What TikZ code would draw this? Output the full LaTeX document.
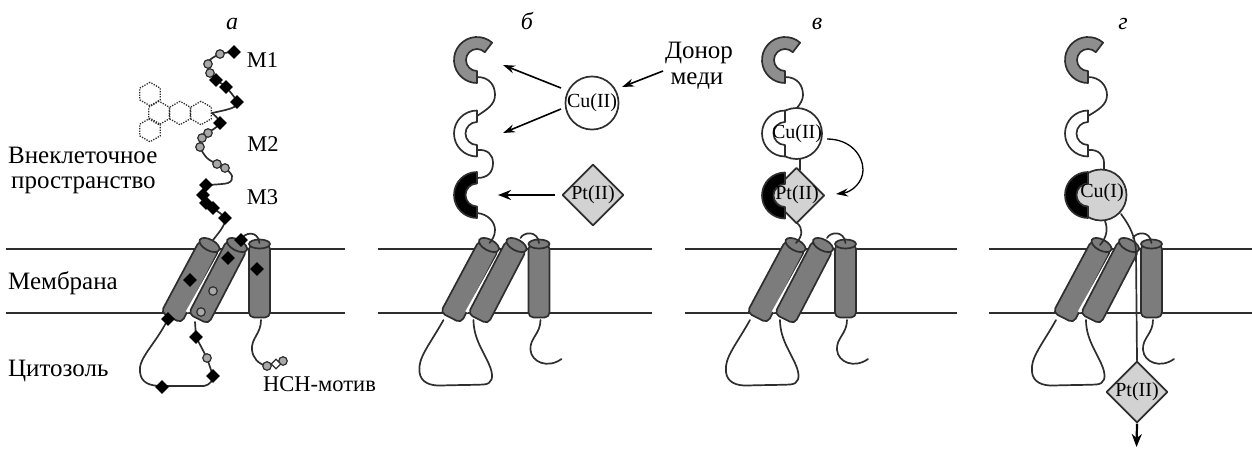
\documentclass[tikz,border=0pt]{standalone}
\usepackage{fontspec}
\setmainfont{Liberation Serif}
\usetikzlibrary{arrows.meta,shapes.geometric}
\definecolor{ink}{HTML}{2E2E2E}
\definecolor{cylgray}{HTML}{7C7C7C}
\definecolor{domgray}{HTML}{8E8E8E}
\definecolor{metalgray}{HTML}{D2D2D2}
\definecolor{beadgray}{HTML}{A8A8A8}
\tikzset{
  x=1pt,y=1pt,
  outline/.style={draw=ink,line width=1.7pt,line join=round},
  chain/.style={draw=ink,line width=1.7pt,line cap=round},
  membrane/.style={draw=ink,line width=2.2pt},
  arr/.style={draw=black,line width=1.6pt,-{Stealth[length=12pt,width=8pt]}},
  thickarr/.style={draw=black,line width=2.2pt,-{Stealth[length=13pt,width=10pt]}},
  beadmark/.style={circle,draw=ink,fill=beadgray,line width=1.2pt,minimum size=8.5pt,inner sep=0pt},
  blackmark/.style={diamond,fill=black,minimum size=14pt,inner sep=0pt},
  hexmark/.style={regular polygon,regular polygon sides=6,shape border rotate=30,draw=ink,dash pattern=on 1.3pt off 1.3pt,line width=1.3pt,minimum size=23.5pt,inner sep=0pt},
  copperion/.style={circle,outline,minimum size=51pt,inner sep=0pt,font=\fontsize{20}{20}\selectfont},
  platinumion/.style={diamond,outline,fill=metalgray,minimum size=56pt,inner sep=0pt,font=\fontsize{20}{20}\selectfont},
  panel/.style={font=\fontsize{24}{24}\selectfont\itshape,anchor=base,inner sep=0pt},
  lab/.style={font=\fontsize{25}{25}\selectfont,inner sep=0pt},
  labm/.style={font=\fontsize{22.5}{22.5}\selectfont,inner sep=0pt},
  labr/.style={lab,anchor=west},
}
% Three transmembrane helices, the coordinates are those of the first panel
\newcommand{\Helices}{%
  \path[outline,fill=cylgray,rounded corners=5pt] (199.8,-240) -- (161,-312.5) -- (181.5,-323) -- (219.2,-250) -- cycle;
  \path[outline,fill=cylgray] (209.5,-245) ellipse[x radius=11,y radius=5.5,rotate=-28];
  \draw[white,line width=2.6pt] (221,-251) -- (187,-312);
  \path[outline,fill=cylgray,rounded corners=5pt] (227,-240) -- (188.5,-314) -- (208.5,-324) -- (247,-250) -- cycle;
  \path[outline,fill=cylgray] (237,-245) ellipse[x radius=11,y radius=5.5,rotate=-28];
  \path[outline,fill=cylgray,rounded corners=5pt] (249,-244) -- (249,-317.5) -- (270,-317.5) -- (270,-244) -- cycle;
  \path[outline,fill=cylgray] (259.5,-244) ellipse[x radius=10.5,y radius=4.5];
}
% Cytosolic loop, helix-to-helix arc and C-terminal tail of the bare protein
\newcommand{\Loops}{%
  \draw[chain] (164,-320) .. controls (150,-345) and (138,-358) .. (140,-372)
     .. controls (141,-382) and (150,-386) .. (162,-385.5)
     .. controls (175,-385) and (195,-385) .. (204,-384.5)
     .. controls (213,-384) and (214,-377) .. (211,-368)
     .. controls (206,-354) and (194,-340) .. (194,-320);
  \draw[chain] (241,-238) .. controls (244,-232) and (258,-230) .. (259.5,-243);
  \draw[chain] (261,-320) .. controls (261,-334) and (250,-338) .. (251,-350)
     .. controls (252,-362) and (268,-369) .. (282,-359);
}
% Metal-binding domain with a half-ring outline: centre x, centre y, fill
\newcommand{\HalfRing}[3]{%
  \path[outline,fill=#3,shift={(#1,-#2)}] (0,23) arc[start angle=90,end angle=270,radius=23]
    -- (0,-11.5) arc[start angle=270,end angle=90,radius=11.5] -- cycle;
}
% Top domain with the open, slanted end
\newcommand{\TopRing}[2]{%
  \path[outline,fill=domgray,shift={(#1,-#2)}] (49:23) arc[start angle=49,end angle=270,radius=23]
    -- (0,-11) arc[start angle=270,end angle=45,radius=11] -- cycle;
}
\begin{document}
\begin{tikzpicture}
\useasboundingbox (0,0) rectangle (1252,-448);

% ---------- panel a ----------
\draw[membrane] (6,-249) -- (345,-249);
\draw[membrane] (6,-313) -- (345,-313);
\Helices
\draw[chain] (241,-240) .. controls (244,-232) and (258,-230) .. (259.5,-243);
\draw[chain] plot[smooth,tension=0.55] coordinates {(234,-52) (220,-54) (208,-62) (210,-73) (216,-80) (226,-87) (237,-102) (232,-108) (212,-113)};
\draw[chain] plot[smooth,tension=0.55] coordinates {(212,-113) (220,-123) (208,-133) (201,-139) (200,-147) (207,-158) (217,-164) (225,-168) (232,-176) (228,-183) (206,-185)};
\draw[chain] plot[smooth,tension=0.5] coordinates {(206,-185) (203,-195) (206,-203) (213,-208) (225,-218) (222,-228) (213,-240)};
\draw[chain] (168,-319) .. controls (155,-345) and (138,-358) .. (140,-372)
   .. controls (141,-383) and (150,-386) .. (162,-386)
   .. controls (175,-386) and (195,-386) .. (204,-386)
   .. controls (210,-385) and (213,-380) .. (213,-376) -- (207,-358) -- (196,-337) -- (195,-322);
\draw[chain] (261,-320) .. controls (261,-334) and (251,-338) .. (252,-350)
   .. controls (253,-358) and (258,-364) .. (267,-366);
\foreach \c [count=\i] in {(150,-94),(159,-113),(180,-113),(201,-113),(150,-130)}
  \node[hexmark] (hex\i) at \c {};
\foreach \c [count=\i] in {(220,-54),(208,-64),(210,-73),(208,-133),(202,-138),(200,-147),(217,-164),(225,-168),(213,-291),(201,-312),(207,-358),(267,-366),(283,-361)}
  \node[beadmark] (bead\i) at \c {};
\foreach \c [count=\i] in {(234,-52),(216,-80),(226,-87),(237,-102),(220,-123),(206,-185),(203,-195),(206,-203),(213,-208),(225,-218),(241,-240),(228,-258),(190,-280),(257,-269),(168,-319),(196,-337),(213,-376),(162,-387)}
  \node[blackmark] (res\i) at \c {};
\node[diamond,draw=ink,fill=white,line width=1.2pt,minimum size=10pt,inner sep=0pt] (hchmid) at (276,-364) {};
\node[panel] (pa) at (232,-29) {а};
\node[labm] (m1) at (262.5,-60) {М1};
\node[labm] (m2) at (263,-144) {М2};
\node[labm] (m3) at (262.5,-197) {М3};
\node[labr] (extra1) at (8,-155) {Внеклеточное};
\node[labr] (extra2) at (11,-185) {пространство};
\node[labr] (memb) at (8,-283) {Мембрана};
\node[labr] (cyto) at (8,-371) {Цитозоль};
\node[labm,anchor=west] (hch) at (263,-384) {НСН-мотив};

% ---------- panel b ----------
\draw[membrane] (378,-249) -- (652,-249);
\draw[membrane] (378,-313) -- (652,-313);
\begin{scope}[xshift=279.5pt]
  \Helices \Loops
\end{scope}
\draw[chain] (477,-77) .. controls (490,-77) and (495,-86) .. (495,-95) .. controls (495,-105) and (486,-110) .. (477,-116);
\draw[chain] (477,-150) .. controls (488,-149) and (493,-155) .. (493,-163) .. controls (493,-172) and (488,-178) .. (477,-178);
\draw[chain] (477,-213) .. controls (488,-214) and (495,-222) .. (495,-230) .. controls (495,-236) and (492,-240) .. (489.5,-243);
\TopRing{477}{60}
\HalfRing{477}{133.5}{white}
\HalfRing{477}{195}{black}
\node[copperion] (cub) at (592,-103) {Cu(II)};
\node[platinumion] (ptb) at (593,-195) {Pt(II)};
\coordinate (tipa) at (503,-65);
\coordinate (tipb) at (503,-133);
\coordinate (tipc) at (498,-195);
\coordinate (cuo1) at (561,-88);
\coordinate (cuo2) at (561,-109);
\coordinate (pto) at (555,-195);
\coordinate (dono) at (663,-71);
\coordinate (doni) at (622,-87);
\draw[arr] (cuo1) -- (tipa);
\draw[arr] (cuo2) -- (tipb);
\draw[thickarr] (pto) -- (tipc);
\draw[arr] (dono) -- (doni);
\node[panel] (pb) at (527,-29) {б};
\node[lab] (don1) at (699,-53) {Донор};
\node[lab] (don2) at (697,-81) {меди};

% ---------- panel c ----------
\draw[membrane] (685,-249) -- (957,-249);
\draw[membrane] (685,-313) -- (957,-313);
\begin{scope}[xshift=586pt]
  \Helices \Loops
\end{scope}
\node[copperion,fill=white] (cuc) at (796.5,-133.5) {};
\node[platinumion] (ptc) at (796.5,-195.5) {};
\draw[chain] (785,-77) .. controls (798,-77) and (803,-86) .. (803,-95) .. controls (803,-100) and (800,-104) .. (797,-108);
\draw[chain] (800,-159) -- (800,-170);
\draw[chain] (797,-223) .. controls (803,-228) and (803,-236) .. (796,-243);
\TopRing{785}{60}
\HalfRing{785}{133.5}{white}
\HalfRing{785}{195.5}{black}
\node[font=\fontsize{20}{20}\selectfont,inner sep=0pt] (cuct) at (797,-134) {Cu(II)};
\node[font=\fontsize{20}{20}\selectfont,inner sep=0pt] (ptct) at (797,-195) {Pt(II)};
\coordinate (cuc1) at (827,-139);
\coordinate (ptc1) at (836,-194);
\draw[arr,line width=1.3pt] (cuc1) .. controls (850,-139) and (863,-155) .. (863,-170) .. controls (863,-182) and (852,-192) .. (ptc1);
\node[panel] (pc) at (817,-29) {в};

% ---------- panel d ----------
\draw[membrane] (989,-249) -- (1252,-249);
\draw[membrane] (989,-313) -- (1252,-313);
\begin{scope}[xshift=892pt]
  \Helices \Loops
\end{scope}
\draw[chain] (1088,-77) .. controls (1100,-77) and (1107,-86) .. (1107,-95) .. controls (1107,-105) and (1098,-110) .. (1088,-116);
\draw[chain] (1088,-150) .. controls (1098,-149) and (1104,-155) .. (1104,-163) -- (1104,-169);
\draw[chain] (1105,-221) .. controls (1108,-229) and (1107,-237) .. (1100,-245);
\node[copperion,fill=metalgray] (cud) at (1101,-195) {};
\TopRing{1088}{60}
\HalfRing{1088}{133.5}{white}
\HalfRing{1088}{195}{black}
\node[font=\fontsize{20}{20}\selectfont,inner sep=0pt] (cudt) at (1102,-193) {Cu(I)};
\node[platinumion] (ptd) at (1137,-392) {Pt(II)};
\draw[chain] (1121,-214) .. controls (1130,-226) and (1136,-238) .. (1136,-253) -- (ptd.north);
\coordinate (exit) at (1136.5,-447);
\draw[thickarr] (ptd.south) -- (exit);
\node[panel] (pd) at (1123,-29) {г};
\end{tikzpicture}
\end{document}
